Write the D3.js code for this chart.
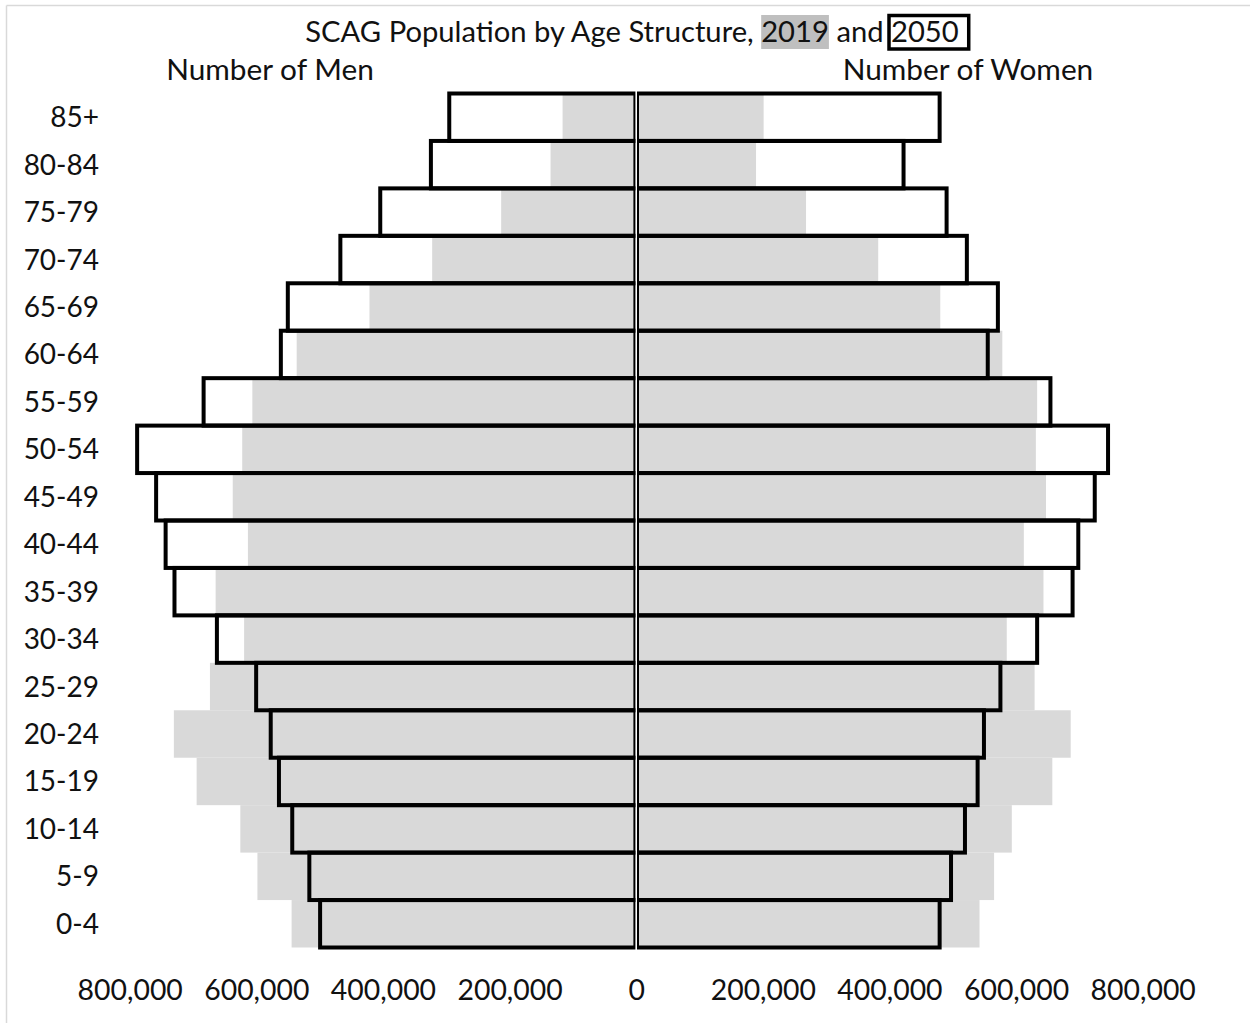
<!DOCTYPE html>
<html>
<head>
<meta charset="utf-8">
<script src="https://cdn.jsdelivr.net/npm/d3@7"></script>
<style>
  body { margin: 0; background: #fff; }
  text { font-family: Lato, "Open Sans", sans-serif; fill: #111; }
</style>
</head>
<body>
<div id="chart"></div>
<script>
// age groups, top to bottom
const ageGroups = ["85+", "80-84", "75-79", "70-74", "65-69", "60-64", "55-59", "50-54", "45-49",
  "40-44", "35-39", "30-34", "25-29", "20-24", "15-19", "10-14", "5-9", "0-4"];

const men2019 = [115000, 134000, 212000, 321000, 420000, 535000, 605000, 621000, 636000,
  612000, 663000, 618000, 672000, 729000, 693000, 624000, 597000, 543000];
const men2050 = [294000, 323000, 403000, 466000, 549000, 560000, 682000, 787000, 757000,
  742000, 728000, 661000, 599000, 576000, 563000, 542000, 515000, 498000];
const women2019 = [200000, 188000, 267000, 381000, 479000, 577000, 632000, 630000, 646000,
  611000, 642000, 584000, 628000, 685000, 656000, 592000, 564000, 541000];
const women2050 = [478000, 421000, 489000, 521000, 570000, 554000, 653000, 744000, 723000,
  697000, 688000, 632000, 574000, 548000, 538000, 518000, 496000, 478000];

const tickValues = [-800000, -600000, -400000, -200000, 0, 200000, 400000, 600000, 800000];

const width = 1250, height = 1023;
const cx = 636.2, half = 506.5, gap = 0.8;

const svg = d3.select("#chart").append("svg")
  .attr("width", width)
  .attr("height", height);

// chart frame (only top and left edges are visible in the crop)
svg.append("line").attr("x1", 6.5).attr("x2", width).attr("y1", 5.5).attr("y2", 5.5)
  .attr("stroke", "#d9d9d9").attr("stroke-width", 1.5);
svg.append("line").attr("x1", 6.5).attr("x2", 6.5).attr("y1", 5.5).attr("y2", height)
  .attr("stroke", "#d9d9d9").attr("stroke-width", 1.5);

// axis scale: negative = men, positive = women
const x = d3.scaleLinear().domain([-800000, 800000]).range([cx - half, cx + half]);
const xMen = d3.scaleLinear().domain([0, 800000]).range([cx - gap, cx - gap - half]);
const xWomen = d3.scaleLinear().domain([0, 800000]).range([cx + gap, cx + gap + half]);

const y = d3.scaleBand().domain(ageGroups).range([93.5, 947.5]).padding(0);

// each side is clipped at the centre so the inner border shows only half its width
const defs = svg.append("defs");
defs.append("clipPath").attr("id", "clipMen").append("rect")
  .attr("x", 0).attr("y", 0).attr("width", xMen(0)).attr("height", height);
defs.append("clipPath").attr("id", "clipWomen").append("rect")
  .attr("x", xWomen(0)).attr("y", 0).attr("width", width).attr("height", height);

const rows = ageGroups.map((g, i) => ({
  group: g, m19: men2019[i], m50: men2050[i], w19: women2019[i], w50: women2050[i]
}));

const gMen = svg.append("g").attr("clip-path", "url(#clipMen)");
const gWomen = svg.append("g").attr("clip-path", "url(#clipWomen)");

// 2050 white fill underneath
gMen.selectAll(".m50fill").data(rows).enter().append("rect")
  .attr("x", d => xMen(d.m50)).attr("y", d => y(d.group))
  .attr("width", d => xMen(0) - xMen(d.m50)).attr("height", y.bandwidth())
  .attr("fill", "#fff");
gWomen.selectAll(".w50fill").data(rows).enter().append("rect")
  .attr("x", xWomen(0)).attr("y", d => y(d.group))
  .attr("width", d => xWomen(d.w50) - xWomen(0)).attr("height", y.bandwidth())
  .attr("fill", "#fff");

// 2019 grey bars
gMen.selectAll(".m19").data(rows).enter().append("rect")
  .attr("x", d => xMen(d.m19)).attr("y", d => y(d.group))
  .attr("width", d => xMen(0) - xMen(d.m19)).attr("height", y.bandwidth())
  .attr("fill", "#d9d9d9");
gWomen.selectAll(".w19").data(rows).enter().append("rect")
  .attr("x", xWomen(0)).attr("y", d => y(d.group))
  .attr("width", d => xWomen(d.w19) - xWomen(0)).attr("height", y.bandwidth())
  .attr("fill", "#d9d9d9");

// 2050 outlines on top
gMen.selectAll(".m50").data(rows).enter().append("rect")
  .attr("x", d => xMen(d.m50)).attr("y", d => y(d.group))
  .attr("width", d => xMen(0) - xMen(d.m50)).attr("height", y.bandwidth())
  .attr("fill", "none").attr("stroke", "#000").attr("stroke-width", 4);
gWomen.selectAll(".w50").data(rows).enter().append("rect")
  .attr("x", xWomen(0)).attr("y", d => y(d.group))
  .attr("width", d => xWomen(d.w50) - xWomen(0)).attr("height", y.bandwidth())
  .attr("fill", "none").attr("stroke", "#000").attr("stroke-width", 4);

// category labels
svg.selectAll(".age").data(ageGroups).enter().append("text")
  .attr("x", 99).attr("y", d => y(d) + y.bandwidth() / 2 + 10)
  .attr("text-anchor", "end").attr("font-size", 28)
  .text(d => d);

// bottom axis labels (no line, no ticks)
const axis = svg.append("g").attr("transform", "translate(0,1000)")
  .call(d3.axisBottom(x).tickValues(tickValues).tickSize(0).tickPadding(0)
    .tickFormat(d => d3.format(",")(Math.abs(d))));
axis.select(".domain").remove();
axis.selectAll("text").attr("font-size", 28.4).attr("font-family", "Lato, sans-serif")
  .attr("fill", "#111").attr("dy", 0);

// side headings
svg.append("text").attr("x", 270).attr("y", 80).attr("text-anchor", "middle")
  .attr("font-size", 29.8).text("Number of Men");
svg.append("text").attr("x", 968).attr("y", 80).attr("text-anchor", "middle")
  .attr("font-size", 29.8).text("Number of Women");

// title with highlighted years
const title = svg.append("text").attr("x", 632).attr("y", 42)
  .attr("text-anchor", "middle").attr("font-size", 29.2);
title.append("tspan").text("SCAG Population by Age Structure, ");
title.append("tspan").text("2019");
title.append("tspan").text(" and ");
title.append("tspan").text("2050");

const node = title.node();
const full = node.textContent;
const box = (s) => {
  const i = full.indexOf(s);
  const a = node.getExtentOfChar(i), b = node.getExtentOfChar(i + s.length - 1);
  return { x0: a.x, x1: b.x + b.width };
};
const b19 = box("2019"), b50 = box("2050");
svg.insert("rect", "text")
  .attr("x", b19.x0).attr("y", 15).attr("width", b19.x1 - b19.x0).attr("height", 34)
  .attr("fill", "#bfbfbf");
svg.append("rect")
  .attr("x", b50.x0 - 2).attr("y", 15.5).attr("width", b50.x1 - b50.x0 + 12).attr("height", 33.5)
  .attr("fill", "none").attr("stroke", "#000").attr("stroke-width", 3.5);
</script>
</body>
</html>
